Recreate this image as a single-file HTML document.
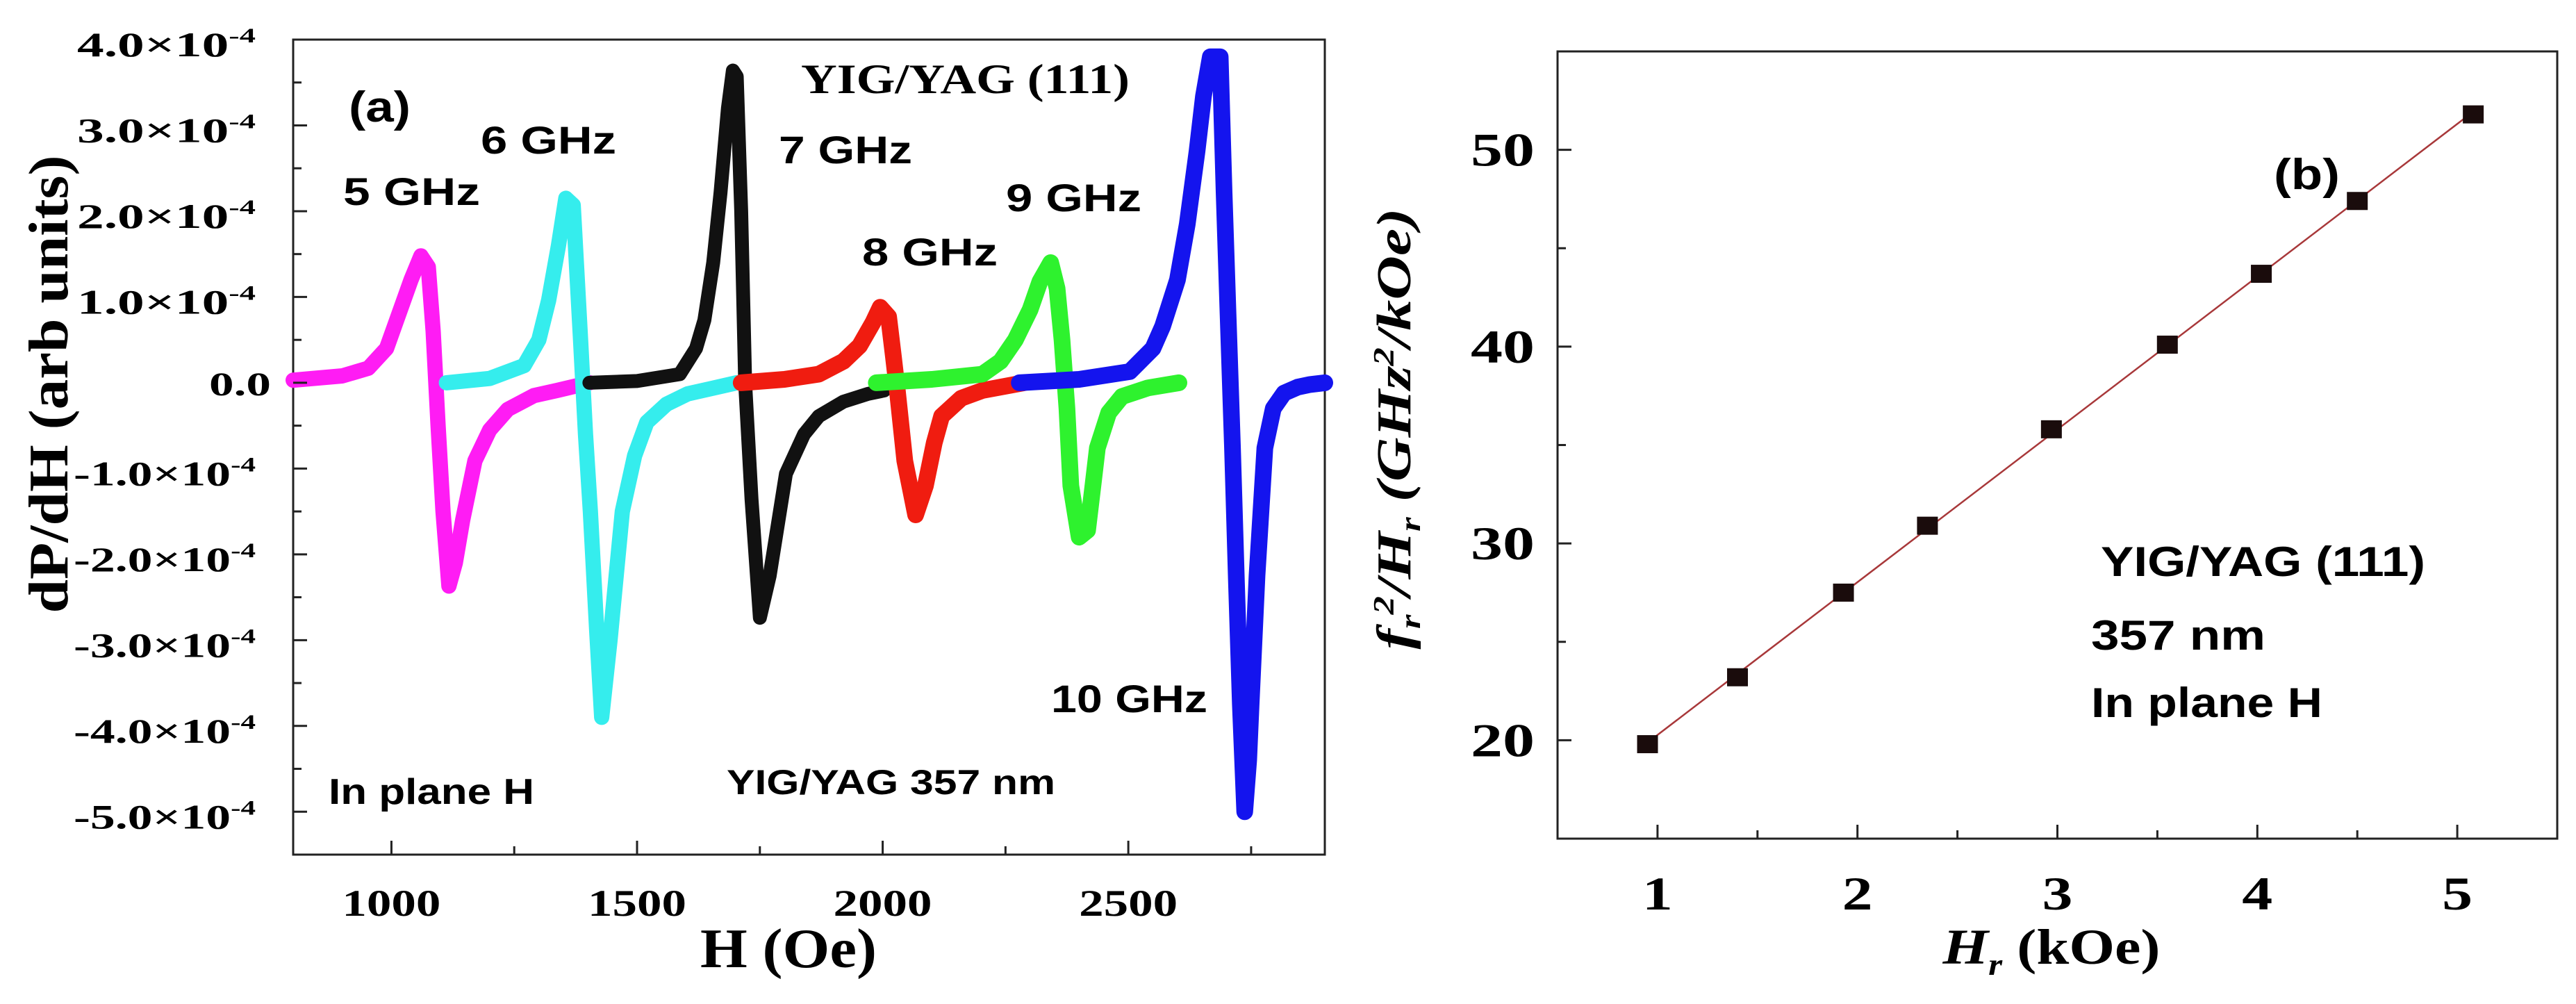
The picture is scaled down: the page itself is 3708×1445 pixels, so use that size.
<!DOCTYPE html>
<html><head><meta charset="utf-8"><style>
html,body{margin:0;padding:0;background:#fff;}
svg{display:block;}
</style></head><body>
<svg id="fig" width="3708" height="1445" viewBox="0 0 3708 1445" xmlns="http://www.w3.org/2000/svg">
<rect x="0" y="0" width="3708" height="1445" fill="#fff"/>
<g id="pa"></g>
<g id="pb"></g>
</svg>
<script>
// ---------- Panel (a) data ----------
const magH = [800, 900, 953, 990, 1020, 1040, 1060, 1075, 1085, 1095, 1105, 1117, 1130, 1145, 1170, 1200, 1237, 1290, 1337, 1403];
const magV = [0.03, 0.08, 0.17, 0.4, 0.88, 1.2, 1.48, 1.35, 0.6, -0.5, -1.5, -2.37, -2.1, -1.6, -0.91, -0.55, -0.31, -0.15, -0.09, 0];
const cyaH = [1112, 1200, 1270, 1300, 1320, 1340, 1355, 1370, 1385, 1395, 1405, 1418, 1428, 1445, 1470, 1495, 1520, 1560, 1603, 1703];
const cyaV = [0, 0.05, 0.2, 0.5, 0.96, 1.6, 2.15, 2.07, 0.5, -0.6, -1.5, -2.9, -3.9, -3.0, -1.5, -0.85, -0.46, -0.25, -0.13, 0];
const blkH = [1403, 1500, 1587, 1620, 1637, 1655, 1670, 1685, 1695, 1703, 1712, 1720, 1733, 1750, 1770, 1803, 1840, 1870, 1920, 1970, 2003];
const blkV = [0, 0.02, 0.1, 0.4, 0.73, 1.4, 2.22, 3.2, 3.64, 3.57, 2.0, 0, -1.36, -2.74, -2.25, -1.06, -0.6, -0.39, -0.22, -0.13, -0.09];
const redH = [1712, 1800, 1870, 1920, 1953, 1980, 1995, 2012, 2022, 2030, 2045, 2067, 2087, 2105, 2120, 2160, 2203, 2287];
const redV = [0, 0.04, 0.1, 0.25, 0.43, 0.7, 0.88, 0.77, 0.3, -0.1, -0.91, -1.54, -1.2, -0.7, -0.39, -0.18, -0.09, 0];
const grnH = [1987, 2100, 2203, 2240, 2270, 2300, 2320, 2342, 2355, 2365, 2375, 2383, 2400, 2417, 2428, 2437, 2460, 2487, 2540, 2603];
const grnV = [0, 0.04, 0.1, 0.25, 0.5, 0.85, 1.18, 1.4, 1.1, 0.5, -0.3, -1.2, -1.8, -1.72, -1.2, -0.76, -0.35, -0.16, -0.06, 0];
const bluH = [2278, 2400, 2503, 2550, 2570, 2600, 2620, 2640, 2653, 2667, 2687, 2695, 2703, 2712, 2720, 2728, 2737, 2745, 2750, 2762, 2778, 2795, 2817, 2845, 2870, 2900];
const bluV = [0, 0.04, 0.13, 0.4, 0.66, 1.2, 1.85, 2.7, 3.34, 3.8, 3.8, 2.22, 0.8, -0.76, -2.3, -3.75, -5.0, -4.4, -3.75, -2.25, -0.76, -0.3, -0.12, -0.05, -0.02, 0];
const aYTicks = [4, 3, 2, 1, 0, -1, -2, -3, -4, -5];
const aXTicks = [1000, 1500, 2000, 2500];
// ---------- Panel (b) data ----------
const bHr = [0.95, 1.4, 1.93, 2.35, 2.97, 3.55, 4.02, 4.5, 5.08];
const bF2H = [19.8, 23.2, 27.5, 30.9, 35.8, 40.1, 43.7, 47.4, 51.8];
const bXTicks = [1, 2, 3, 4, 5];
const bYTicks = [20, 30, 40, 50];

const NS = 'http://www.w3.org/2000/svg';
const pa = document.getElementById('pa');
const pb = document.getElementById('pb');
function mk(tag, attrs, parent) {
  const e = document.createElementNS(NS, tag);
  for (const k in attrs) e.setAttribute(k, attrs[k]);
  parent.appendChild(e);
  return e;
}
const SERIF = '"Liberation Serif", serif';
const SANS = '"Liberation Sans", sans-serif';

const aL = 422, aR = 1907, aT = 57, aB = 1230;
function ax(h) { return aL + (h - 800) / 2100 * (aR - aL); }
function ay(v) { return aT + (4.0 - v) / 9.5 * (aB - aT); }
const bL = 2242, bR = 3681, bT = 74, bB = 1207;
function bx(h) { return bL + (h - 0.5) / 5 * (bR - bL); }
function by(v) { return bB - (v - 15) / 40 * (bB - bT); }

let el = mk('rect', {x: aL, y: aT, width: aR - aL, height: aB - aT, fill: 'none', stroke: '#222', 'stroke-width': 3}, pa);



const series = [
  ['series-5ghz', magH, magV, '#ff1cf4', 22],
  ['series-6ghz', cyaH, cyaV, '#35eded', 22],
  ['series-7ghz', blkH, blkV, '#111111', 20],
  ['series-8ghz', redH, redV, '#f01c10', 24],
  ['series-9ghz', grnH, grnV, '#2ef22e', 24],
  ['series-10ghz', bluH, bluV, '#1414ee', 24]
];
for (const s of series) {
  const pts = s[1].map((h, i) => ax(h).toFixed(1) + ',' + ay(s[2][i]).toFixed(1)).join(' ');
  el = mk('polyline', {points: pts, fill: 'none', stroke: s[3], 'stroke-width': s[4], 'stroke-linejoin': 'round', 'stroke-linecap': 'round'}, pa);
  
  
}

for (let i = 0; i < aYTicks.length; i++) {
  const v = aYTicks[i];
  const y = ay(v);
  el = mk('line', {x1: aL, x2: aL + 20, y1: y, y2: y, stroke: '#222', 'stroke-width': 3}, pa);
  
  
  const ym = ay(v - 0.5);
  el = mk('line', {x1: aL, x2: aL + 12, y1: ym, y2: ym, stroke: '#222', 'stroke-width': 3}, pa);
  
  
  let t;
  if (v === 0) {
    t = mk('text', {x: 390, y: y + 18, 'text-anchor': 'end', 'font-family': SERIF, 'font-weight': 'bold', 'font-size': 48, textLength: 89, lengthAdjust: 'spacingAndGlyphs'}, pa);
    t.textContent = '0.0';
  } else {
    const w = v > 0 ? 257 : 262;
    t = mk('text', {x: 368, y: y + 24, 'text-anchor': 'end', 'font-family': SERIF, 'font-weight': 'bold', 'font-size': 50, textLength: w, lengthAdjust: 'spacingAndGlyphs'}, pa);
    t.textContent = (v < 0 ? '-' : '') + Math.abs(v).toFixed(1) + '\u00d710';
    const sp = mk('tspan', {dy: -20, 'font-size': 30}, t);
    sp.textContent = '-4';
  }
  
  
}
for (const h of aXTicks) {
  el = mk('line', {x1: ax(h), x2: ax(h), y1: aB, y2: aB - 20, stroke: '#222', 'stroke-width': 3}, pa);
  
  
  el = mk('line', {x1: ax(h + 250), x2: ax(h + 250), y1: aB, y2: aB - 12, stroke: '#222', 'stroke-width': 3}, pa);
  
  
  const t = mk('text', {x: ax(h), y: 1318, 'text-anchor': 'middle', 'font-family': SERIF, 'font-weight': 'bold', 'font-size': 54, textLength: 142, lengthAdjust: 'spacingAndGlyphs'}, pa);
  t.textContent = String(h);
  
  
}

function label(parent, x, y, str, fam, size, w) {
  const t = mk('text', {x: x, y: y, 'font-family': fam, 'font-weight': 'bold', 'font-size': size, textLength: w, lengthAdjust: 'spacingAndGlyphs'}, parent);
  t.textContent = str;
  return t;
}
el = label(pa, 1008, 1392, 'H (Oe)', SERIF, 80, 254);


el = mk('text', {x: 0, y: 0, transform: 'translate(97,553) rotate(-90)', 'text-anchor': 'middle', 'font-family': SERIF, 'font-weight': 'bold', 'font-size': 80, textLength: 659, lengthAdjust: 'spacingAndGlyphs'}, pa);
el.textContent = 'dP/dH (arb units)';



const aLabels = [
  ['panel-a-letter', 502, 175, '(a)', SANS, 62, 89],
  ['label-5ghz', 494, 295, '5 GHz', SANS, 56, 197],
  ['label-6ghz', 692, 221, '6 GHz', SANS, 56, 195],
  ['label-7ghz', 1121, 235, '7 GHz', SANS, 56, 192],
  ['label-8ghz', 1241, 382, '8 GHz', SANS, 56, 195],
  ['label-9ghz', 1448, 304, '9 GHz', SANS, 56, 195],
  ['label-10ghz', 1513, 1025, '10 GHz', SANS, 56, 225],
  ['sample-title-a', 1153, 134, 'YIG/YAG (111)', SERIF, 60, 473],
  ['in-plane-label-a', 473, 1157, 'In plane H', SANS, 52, 296],
  ['thickness-label-a', 1046, 1143, 'YIG/YAG  357 nm', SANS, 50, 473]
];
for (const L of aLabels) {
  el = label(pa, L[1], L[2], L[3], L[4], L[5], L[6]);
  
  
}

el = mk('rect', {x: bL, y: bT, width: bR - bL, height: bB - bT, fill: 'none', stroke: '#222', 'stroke-width': 3}, pb);



for (const v of bYTicks) {
  el = mk('line', {x1: bL, x2: bL + 20, y1: by(v), y2: by(v), stroke: '#222', 'stroke-width': 3}, pb);
  
  
  el = mk('line', {x1: bL, x2: bL + 12, y1: by(v + 5), y2: by(v + 5), stroke: '#222', 'stroke-width': 3}, pb);
  
  
  const t = mk('text', {x: 2209, y: by(v) + 23, 'text-anchor': 'end', 'font-family': SERIF, 'font-weight': 'bold', 'font-size': 68, textLength: 92, lengthAdjust: 'spacingAndGlyphs'}, pb);
  t.textContent = String(v);
  
  
}
for (const h of bXTicks) {
  el = mk('line', {x1: bx(h), x2: bx(h), y1: bB, y2: bB - 20, stroke: '#222', 'stroke-width': 3}, pb);
  
  
  if (h < 5) {
    el = mk('line', {x1: bx(h + 0.5), x2: bx(h + 0.5), y1: bB, y2: bB - 12, stroke: '#222', 'stroke-width': 3}, pb);
    
    
  }
  const t = mk('text', {x: bx(h), y: 1309, 'text-anchor': 'middle', 'font-family': SERIF, 'font-weight': 'bold', 'font-size': 68, textLength: 44, lengthAdjust: 'spacingAndGlyphs'}, pb);
  t.textContent = String(h);
  
  
}
let n = bHr.length, sx = 0, sy = 0, sxx = 0, sxy = 0;
for (let i = 0; i < n; i++) { sx += bHr[i]; sy += bF2H[i]; sxx += bHr[i] * bHr[i]; sxy += bHr[i] * bF2H[i]; }
const slope = (n * sxy - sx * sy) / (n * sxx - sx * sx);
const icpt = (sy - slope * sx) / n;
const x0 = bHr[0], x1 = bHr[n - 1];
el = mk('line', {x1: bx(x0), y1: by(icpt + slope * x0), x2: bx(x1), y2: by(icpt + slope * x1), stroke: '#a8383a', 'stroke-width': 2.5}, pb);


for (let i = 0; i < n; i++) {
  el = mk('rect', {x: bx(bHr[i]) - 15, y: by(bF2H[i]) - 13, width: 30, height: 26, fill: '#1a0c0c'}, pb);
  
  
}
el = mk('text', {x: 2953, y: 1387, 'text-anchor': 'middle', 'font-family': SERIF, 'font-weight': 'bold', 'font-size': 72, textLength: 313, lengthAdjust: 'spacingAndGlyphs'}, pb);
el.innerHTML = '<tspan font-style="italic">H</tspan><tspan font-style="italic" font-size="44" dy="16">r</tspan><tspan dy="-16"> (kOe)</tspan>';


el = mk('text', {x: 0, y: 0, transform: 'translate(2030,617) rotate(-90)', 'text-anchor': 'middle', 'font-family': SERIF, 'font-weight': 'bold', 'font-style': 'italic', 'font-size': 70, textLength: 635, lengthAdjust: 'spacingAndGlyphs'}, pb);
el.innerHTML = '<tspan>f</tspan><tspan font-size="42" dy="14">r</tspan><tspan font-size="42" dy="-38">2</tspan><tspan dy="24">/H</tspan><tspan font-size="42" dy="14">r</tspan><tspan dy="-14"> (GHz</tspan><tspan font-size="42" dy="-24">2</tspan><tspan dy="24">/kOe)</tspan>';



const bLabels = [
  ['panel-b-letter', 3273, 272, '(b)', SANS, 62, 95],
  ['sample-title-b', 3024, 829, 'YIG/YAG (111)', SANS, 60, 467],
  ['thickness-label-b', 3010, 935, '357 nm', SANS, 60, 251],
  ['in-plane-label-b', 3010, 1032, 'In plane H', SANS, 60, 333]
];
for (const L of bLabels) {
  el = label(pb, L[1], L[2], L[3], L[4], L[5], L[6]);
  
  
}
</script>
</body></html>
